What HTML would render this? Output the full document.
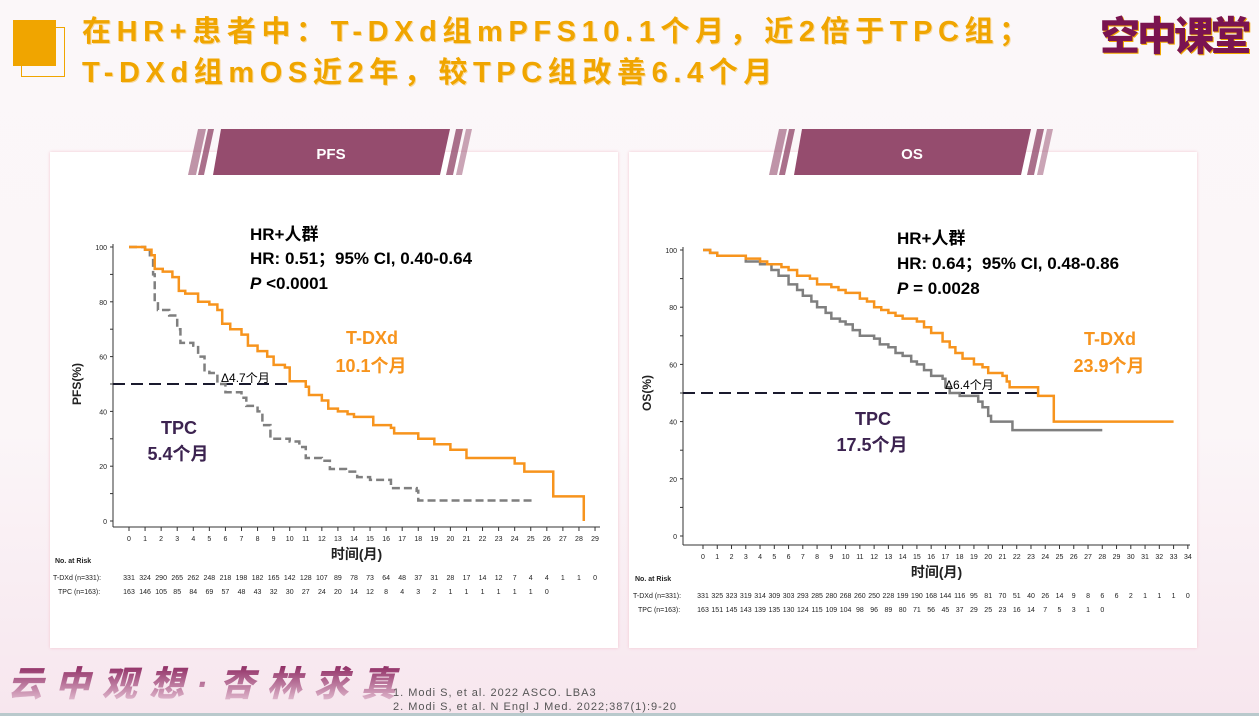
<!DOCTYPE html>
<html><head><meta charset="utf-8"><style>
html,body{margin:0;padding:0}
body{width:1259px;height:716px;position:relative;overflow:hidden;font-family:"Liberation Sans","Noto Sans CJK SC",sans-serif;
background:linear-gradient(180deg,#fbf7f9 0%,#fbf6f8 60%,#f7e6ee 100%);}
.t{position:absolute;color:#f0a500;font-weight:bold;font-size:29px;letter-spacing:5.6px;white-space:nowrap;text-shadow:1px 1px 0 #f7d9a0}
.panel{position:absolute;background:#fff;box-shadow:0 0 3px #f3c6cf;}
svg text{font-family:"Liberation Sans","Noto Sans CJK SC",sans-serif}
</style></head><body>
<div style="position:absolute;left:21px;top:27px;width:42px;height:48px;border:1px solid #f0a500"></div>
<div style="position:absolute;left:13px;top:20px;width:43px;height:46px;background:#f0a500"></div>
<div class="t" style="left:82px;top:8px">在HR+患者中：T-DXd组mPFS10.1个月，近2倍于TPC组；</div>
<div class="t" style="left:82px;top:49px">T-DXd组mOS近2年，较TPC组改善6.4个月</div>
<div style="position:absolute;left:1100px;top:4px;color:#7a1450;font-weight:900;font-size:40px;letter-spacing:-3px;text-shadow:1px 1px 0 #f0a500">空中课堂</div>

<div class="panel" style="left:50px;top:152px;width:568px;height:496px"></div>
<div class="panel" style="left:629px;top:152px;width:568px;height:496px"></div>
<div style="position:absolute;left:0;top:713px;width:1259px;height:3px;background:#b9c9cc"></div>

<svg width="1259" height="716" style="position:absolute;left:0;top:0">
<defs><linearGradient id="fg" x1="0" y1="0" x2="0" y2="1"><stop offset="0" stop-color="#8e2a62"/><stop offset="1" stop-color="#e8c6d8"/></linearGradient></defs>
<g fill="#954c6e">
<polygon points="221,129 450,129 440,175 213,175"/>
<polygon points="198,129 206,129 196,175 188,175" opacity=".6"/>
<polygon points="208,129 214,129 204,175 198,175" opacity=".8"/>
<polygon points="456,129 463,129 453,175 446,175" opacity=".8"/>
<polygon points="466,129 472,129 462,175 456,175" opacity=".5"/>
<polygon points="802,129 1031,129 1021,175 794,175"/>
<polygon points="779,129 787,129 777,175 769,175" opacity=".6"/>
<polygon points="789,129 795,129 785,175 779,175" opacity=".8"/>
<polygon points="1037,129 1044,129 1034,175 1027,175" opacity=".8"/>
<polygon points="1047,129 1053,129 1043,175 1037,175" opacity=".5"/>
</g>
<text x="331" y="159" fill="#fff" font-size="15" font-weight="bold" text-anchor="middle">PFS</text>
<text x="912" y="159" fill="#fff" font-size="15" font-weight="bold" text-anchor="middle">OS</text>
<g id="c"></g>
<text x="8" y="696" font-size="35" font-weight="900" fill="url(#fg)" font-style="italic" letter-spacing="12">云中观想·杏林求真</text>
<text x="393" y="696" font-size="11" fill="#555" letter-spacing="1">1. Modi S, et al. 2022 ASCO. LBA3</text>
<text x="393" y="710" font-size="11" fill="#555" letter-spacing="1">2. Modi S, et al. N Engl J Med. 2022;387(1):9-20</text>
</svg>
<script>
var g=document.getElementById('c'),s='';
function T(x,y,t,o){o=o||{};s+='<text x="'+x+'" y="'+y+'" font-size="'+(o.fs||8)+'" fill="'+(o.c||'#222')+'"'+(o.w?' font-weight="bold"':'')+(o.a?' text-anchor="'+o.a+'"':'')+(o.tr?' transform="'+o.tr+'"':'')+'>'+t+'</text>';}
function chart(c){
 var X=function(m){return c.x0+c.dx*m},Y=function(v){return c.y0-c.dy*v};
 s+='<line x1="'+c.ax+'" y1="'+(Y(100)-3)+'" x2="'+c.ax+'" y2="'+c.bl+'" stroke="#333"/>';
 s+='<line x1="'+c.ax+'" y1="'+c.bl+'" x2="'+c.xe+'" y2="'+c.bl+'" stroke="#333"/>';
 for(var v=0;v<=100;v+=10){s+='<line x1="'+(c.ax-3)+'" y1="'+Y(v)+'" x2="'+c.ax+'" y2="'+Y(v)+'" stroke="#333"/>';if(v%20==0)T(c.ax-6,Y(v)+3,v,{fs:7,a:'end'});}
 for(var m=0;m<=c.mm;m++){s+='<line x1="'+X(m)+'" y1="'+c.bl+'" x2="'+X(m)+'" y2="'+(c.bl+4)+'" stroke="#333"/>';T(X(m),c.bl+14,m,{fs:7,a:'middle'});}
 T(c.ax-32,(Y(100)+Y(0))/2,c.yl,{fs:12,w:1,a:'middle',tr:'rotate(-90 '+(c.ax-32)+' '+((Y(100)+Y(0))/2)+')'});
 T((c.ax+c.xe)/2,c.bl+32,'时间(月)',{fs:14,w:1,a:'middle'});
 T(c.px+5,c.bl+36,'No. at Risk',{fs:7,w:1});
 T(c.px+3,c.bl+53,c.l1,{fs:7});T(c.px+8,c.bl+67,'TPC (n=163):',{fs:7});
 c.r1.forEach(function(n,i){T(X(i),c.bl+53,n,{fs:7,a:'middle'})});
 c.r2.forEach(function(n,i){T(X(i),c.bl+67,n,{fs:7,a:'middle'})});
 s+='<line x1="'+c.ax+'" y1="'+Y(50)+'" x2="'+X(c.de)+'" y2="'+Y(50)+'" stroke="#1a1a2e" stroke-width="2" stroke-dasharray="12,6"/>';
 function path(p,col,dash){var d='M'+X(p[0][0])+','+Y(p[0][1]);for(var i=1;i<p.length;i++){d+=' H'+X(p[i][0])+' V'+Y(p[i][1]);}
  s+='<path d="'+d+'" fill="none" stroke="'+col+'" stroke-width="2.5"'+(dash?' stroke-dasharray="8,4"':'')+'/>';}
 path(c.tpc,'#7f7f7f',c.dash);path(c.tdx,'#f7941d',0);
}
chart({x0:129,dx:16.07,y0:521,dy:2.74,ax:113,bl:527,xe:600,mm:29,px:50,yl:'PFS(%)',de:10,dash:1,
l1:'T-DXd (n=331):',
r1:[331,324,290,265,262,248,218,198,182,165,142,128,107,89,78,73,64,48,37,31,28,17,14,12,7,4,4,1,1,0],
r2:[163,146,105,85,84,69,57,48,43,32,30,27,24,20,14,12,8,4,3,2,1,1,1,1,1,1,0],
tdx:[[0,100],[1,99],[1.4,97],[1.6,92],[2.1,91],[2.7,89],[3.1,84],[3.5,83],[4.2,83],[4.3,80],[5,79],[5.5,77],[5.8,72],[6.3,70],[7,68],[7.4,64],[8,62],[8.6,60],[9,57],[9.7,56],[10,51],[11,49],[11.2,46],[12,44],[12.4,41],[13,40],[13.6,39],[14,38],[15.2,35],[16.3,34],[16.5,32],[17.5,32],[18,30],[19,28],[20,26],[21,23],[24,21],[24.6,18],[26.4,9],[28.3,0]],
tpc:[[0,100],[1,99],[1.3,97],[1.5,90],[1.6,80],[1.8,77],[2.5,75],[3,70],[3.2,65],[4,64],[4.3,60],[4.7,55],[5,54],[5.5,50],[6,47],[7,45],[7.3,42],[8,40],[8.3,35],[8.8,30],[10,29],[10.6,27],[11,23],[12,22],[12.5,19],[13.5,18],[14.2,16],[15,15],[16.3,12],[17.9,11],[18,7.5],[25.2,7.5]]});
chart({x0:703,dx:14.26,y0:536,dy:2.86,ax:683,bl:545,xe:1190,mm:34,px:630,yl:'OS(%)',de:23.5,dash:0,
l1:'T-DXd (n=331):',
r1:[331,325,323,319,314,309,303,293,285,280,268,260,250,228,199,190,168,144,116,95,81,70,51,40,26,14,9,8,6,6,2,1,1,1,0],
r2:[163,151,145,143,139,135,130,124,115,109,104,98,96,89,80,71,56,45,37,29,25,23,16,14,7,5,3,1,0],
tdx:[[0,100],[0.5,99],[1,98],[3,97],[4,96],[4.5,95],[5.5,94],[6,93],[6.6,91],[7.5,90],[8,88],[9,87],[9.5,86],[10,85],[11,83],[11.5,82],[12,80],[12.5,79],[13,78],[13.5,77],[14,76],[15,75],[15.5,73],[16,71],[16.8,68],[17.3,66],[17.7,64],[18.2,62],[19,60],[19.6,59],[20,57],[21,56],[21.3,54],[21.5,52],[23,52],[23.5,49],[24.4,49],[24.6,40],[33,40]],
tpc:[[0,100],[0.5,99],[1,98],[3,96],[4,95],[4.8,93],[5.3,91],[6,88],[6.6,86],[7,84],[7.6,82],[8,80],[8.6,78],[9,76],[9.6,75],[10,74],[10.5,72],[11,70],[12,69],[12.4,67],[13,66],[13.5,64],[14,63],[14.6,61],[15,60],[15.5,58],[16,56],[16.8,55],[17,52],[17.3,50],[18,49],[19,49],[19.3,47],[19.6,45],[20,42],[20.2,40],[21.5,40],[21.7,37],[28,37]]});
T(250,240,'HR+人群',{fs:17,w:1,c:'#000'});
T(250,264,'HR: 0.51；95% CI, 0.40-0.64',{fs:17,w:1,c:'#000'});
s+='<text x="250" y="289" font-size="17" font-weight="bold" fill="#000"><tspan font-style="italic">P</tspan> &lt;0.0001</text>';
T(372,344,'T-DXd',{fs:18,w:1,c:'#f7941d',a:'middle'});T(371,372,'10.1个月',{fs:18,w:1,c:'#f7941d',a:'middle'});
T(179,434,'TPC',{fs:18,w:1,c:'#3c2350',a:'middle'});T(178,460,'5.4个月',{fs:18,w:1,c:'#3c2350',a:'middle'});
T(221,382,'Δ4.7个月',{fs:12,c:'#000'});
T(897,244,'HR+人群',{fs:17,w:1,c:'#000'});
T(897,269,'HR: 0.64；95% CI, 0.48-0.86',{fs:17,w:1,c:'#000'});
s+='<text x="897" y="294" font-size="17" font-weight="bold" fill="#000"><tspan font-style="italic">P</tspan> = 0.0028</text>';
T(1110,345,'T-DXd',{fs:18,w:1,c:'#f7941d',a:'middle'});T(1109,372,'23.9个月',{fs:18,w:1,c:'#f7941d',a:'middle'});
T(873,425,'TPC',{fs:18,w:1,c:'#3c2350',a:'middle'});T(872,451,'17.5个月',{fs:18,w:1,c:'#3c2350',a:'middle'});
T(945,389,'Δ6.4个月',{fs:12,c:'#000'});
g.innerHTML=s;
</script>
</body></html>
